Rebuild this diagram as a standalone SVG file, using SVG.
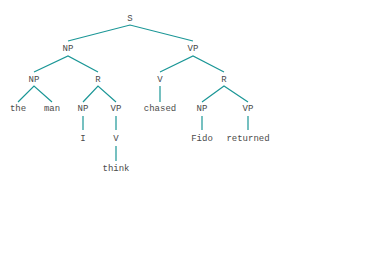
<svg xmlns="http://www.w3.org/2000/svg" width="381" height="267" viewBox="0 0 381 267">
  <style>
    .lbl { font-family: "Liberation Mono", "DejaVu Sans Mono", monospace; font-size: 9px; fill: #4a4a4a; text-anchor: middle; }
    .edge { stroke: #1a9696; stroke-width: 1.2; fill: none; }
  </style>
  <rect width="381" height="267" fill="#fff"/>
  <g id="edges">
    <polyline class="edge" points="68,41 130,25 193,41"/>
    <polyline class="edge" points="34,72 68,56 98,72"/>
    <polyline class="edge" points="160,72 193,56 224,72"/>
    <polyline class="edge" points="18,102 34,86 52,102"/>
    <polyline class="edge" points="83,102 98,86 116,102"/>
    <line class="edge" x1="160" y1="86" x2="160" y2="102"/>
    <polyline class="edge" points="202,102 224,86 248,102"/>
    <line class="edge" x1="83" y1="116" x2="83" y2="130"/>
    <line class="edge" x1="116" y1="116" x2="116" y2="130"/>
    <line class="edge" x1="116" y1="146" x2="116" y2="161"/>
    <line class="edge" x1="202" y1="116" x2="202" y2="130"/>
    <line class="edge" x1="248" y1="116" x2="248" y2="130"/>
  </g>
  <g id="n-s"><text class="lbl" x="130" y="21">S</text></g>
  <g id="n-np1"><text class="lbl" x="68" y="51">NP</text></g>
  <g id="n-vp1"><text class="lbl" x="193" y="51">VP</text></g>
  <g id="n-np2"><text class="lbl" x="34" y="82">NP</text></g>
  <g id="n-r1"><text class="lbl" x="98" y="82">R</text></g>
  <g id="n-v1"><text class="lbl" x="160" y="82">V</text></g>
  <g id="n-r2"><text class="lbl" x="224" y="82">R</text></g>
  <g id="n-the"><text class="lbl" x="18" y="111">the</text></g>
  <g id="n-man"><text class="lbl" x="52" y="111">man</text></g>
  <g id="n-np3"><text class="lbl" x="83" y="111">NP</text></g>
  <g id="n-vp2"><text class="lbl" x="116" y="111">VP</text></g>
  <g id="n-chased"><text class="lbl" x="160" y="111">chased</text></g>
  <g id="n-np4"><text class="lbl" x="202" y="111">NP</text></g>
  <g id="n-vp3"><text class="lbl" x="248" y="111">VP</text></g>
  <g id="n-i"><text class="lbl" x="83" y="141">I</text></g>
  <g id="n-v2"><text class="lbl" x="116" y="141">V</text></g>
  <g id="n-fido"><text class="lbl" x="202" y="141">Fido</text></g>
  <g id="n-returned"><text class="lbl" x="248" y="141">returned</text></g>
  <g id="n-think"><text class="lbl" x="116" y="171">think</text></g>
</svg>
